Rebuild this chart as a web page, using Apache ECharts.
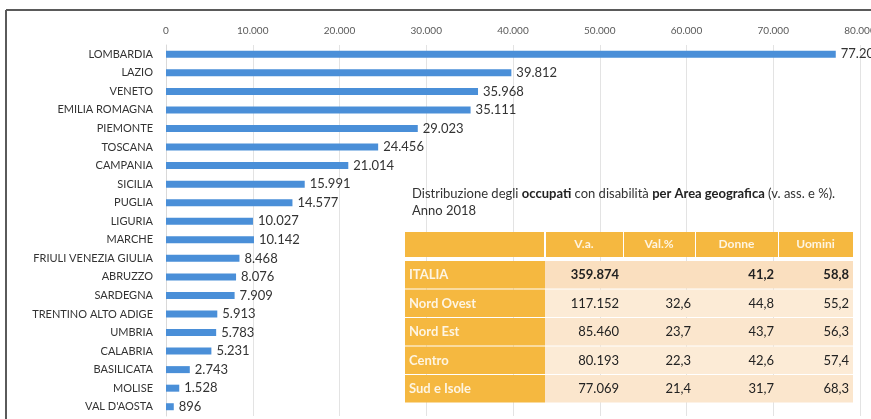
<!DOCTYPE html>
<html>
<head>
<meta charset="utf-8">
<script src="https://cdn.jsdelivr.net/npm/echarts@6/dist/echarts.min.js"></script>
<style>
    html, body { margin: 0; padding: 0; background: #fff; }
    #chart { width: 871px; height: 419px; }
</style>
</head>
<body>
<div id="chart"></div>
<script>
    // occupati con disabilità per regione
    var regioni = ['LOMBARDIA', 'LAZIO', 'VENETO', 'EMILIA ROMAGNA', 'PIEMONTE', 'TOSCANA', 'CAMPANIA',
        'SICILIA', 'PUGLIA', 'LIGURIA', 'MARCHE', 'FRIULI VENEZIA GIULIA', 'ABRUZZO', 'SARDEGNA',
        'TRENTINO ALTO ADIGE', 'UMBRIA', 'CALABRIA', 'BASILICATA', 'MOLISE', "VAL D'AOSTA"]
    var occupati = [77206, 39812, 35968, 35111, 29023, 24456, 21014, 15991, 14577, 10027, 10142,
        8468, 8076, 7909, 5913, 5783, 5231, 2743, 1528, 896]

    // tabella per area geografica
    var intestazioni = ['', 'V.a.', 'Val.%', 'Donne', 'Uomini']
    var aree = ['ITALIA', 'Nord Ovest', 'Nord Est', 'Centro', 'Sud e Isole']
    var valAss = ['359.874', '117.152', '85.460', '80.193', '77.069']
    var valPerc = ['', '32,6', '23,7', '22,3', '21,4']
    var donne = ['41,2', '44,8', '43,7', '42,6', '31,7']
    var uomini = ['58,8', '55,2', '56,3', '57,4', '68,3']

    function puntini (v) {
        return String(v).replace(/\B(?=(\d{3})+(?!\d))/g, '.')
    }

    // layout tabella
    var colX = [405, 545, 623, 695, 778, 853]
    var headTop = 232
    var headH = 25
    var rowTop = 261
    var rowH = 28.5
    var orange = '#F5B840'

    var graphics = []
    // cornice
    graphics.push({ type: 'line', shape: { x1: 6, y1: 10, x2: 871, y2: 10 }, style: { stroke: '#5a5a5a', lineWidth: 2 }, z: 100 })
    graphics.push({ type: 'line', shape: { x1: 6, y1: 10, x2: 6, y2: 419 }, style: { stroke: '#5a5a5a', lineWidth: 2 }, z: 100 })

    // titolo della tabella
    graphics.push({
        type: 'text', left: 412, top: 187, z: 100,
        style: {
            text: '{n|Distribuzione degli }{b|occupati}{n| con disabilità }{b|per Area geografica}{n| (v. ass. e %).}\n{n|Anno 2018}',
            rich: {
                n: { fontFamily: 'Lato', fontSize: 13, fill: '#333', lineHeight: 17 },
                b: { fontFamily: 'Lato', fontSize: 13, fontWeight: 'bold', fill: '#222', lineHeight: 17 }
            }
        }
    })

    // intestazione
    intestazioni.forEach(function (h, i) {
        graphics.push({
            type: 'rect', z: 100,
            shape: { x: colX[i] + (i ? 1 : 0), y: headTop, width: colX[i + 1] - colX[i] - 1, height: headH },
            style: { fill: orange }
        })
        if (h) {
            graphics.push({
                type: 'text', z: 101,
                x: (colX[i] + colX[i + 1]) / 2, y: headTop + headH / 2,
                style: { text: h, fill: '#fff', opacity: 0.85, fontFamily: 'Lato', fontSize: 12, fontWeight: 'bold', align: 'center', verticalAlign: 'middle' }
            })
        }
    })

    // righe
    aree.forEach(function (a, r) {
        var y = rowTop + r * rowH
        graphics.push({
            type: 'rect', z: 100,
            shape: { x: colX[0], y: y, width: colX[1] - colX[0], height: rowH - 1 },
            style: { fill: orange }
        })
        graphics.push({
            type: 'rect', z: 100,
            shape: { x: colX[1], y: y, width: colX[5] - colX[1], height: rowH - 1 },
            style: { fill: r === 0 ? '#FADFBF' : (r % 2 ? '#FCEBD6' : '#FBE6CD') }
        })
        graphics.push({
            type: 'text', z: 101, x: colX[0] + 4, y: y + rowH / 2,
            style: { text: a, fill: '#fff', opacity: 0.85, fontFamily: 'Lato', fontSize: 13, fontWeight: 'bold', verticalAlign: 'middle' }
        })
        var vals = [valAss[r], valPerc[r], donne[r], uomini[r]]
        vals.forEach(function (v, c) {
            graphics.push({
                type: 'text', z: 101, x: colX[c + 2] - 4, y: y + rowH / 2,
                style: {
                    text: v, fill: '#222', fontFamily: 'Lato', fontSize: 13, align: 'right', verticalAlign: 'middle',
                    fontWeight: r === 0 ? 'bold' : 'normal'
                }
            })
        })
    })

    var chart = echarts.init(document.getElementById('chart'))
    chart.setOption({
        animation: false,
        backgroundColor: '#fff',
        grid: { left: 166, right: 11, top: 45, bottom: 3, containLabel: false, outerBoundsMode: 'none' },
        xAxis: {
            type: 'value',
            position: 'top',
            min: 0,
            max: 80000,
            interval: 10000,
            axisLine: { show: false },
            axisTick: { show: false },
            axisLabel: { fontFamily: 'Lato', fontSize: 10, color: '#595959', margin: 9, formatter: puntini, hideOverlap: false },
            splitLine: { lineStyle: { color: '#e3e3e3', width: 1 } }
        },
        yAxis: {
            type: 'category',
            inverse: true,
            data: regioni,
            axisLine: { lineStyle: { color: '#d9d9d9' } },
            axisTick: { show: false },
            axisLabel: { fontFamily: 'Lato', fontSize: 11, color: '#333', margin: 13 }
        },
        series: [{
            type: 'bar',
            data: occupati,
            barWidth: 7,
            itemStyle: { color: '#4a8fd8' },
            label: {
                show: true,
                position: 'right',
                distance: 5,
                fontFamily: 'Lato',
                fontSize: 13,
                color: '#333',
                formatter: function (p) { return puntini(p.value) }
            }
        }],
        graphic: graphics
    })
</script>
</body>
</html>
